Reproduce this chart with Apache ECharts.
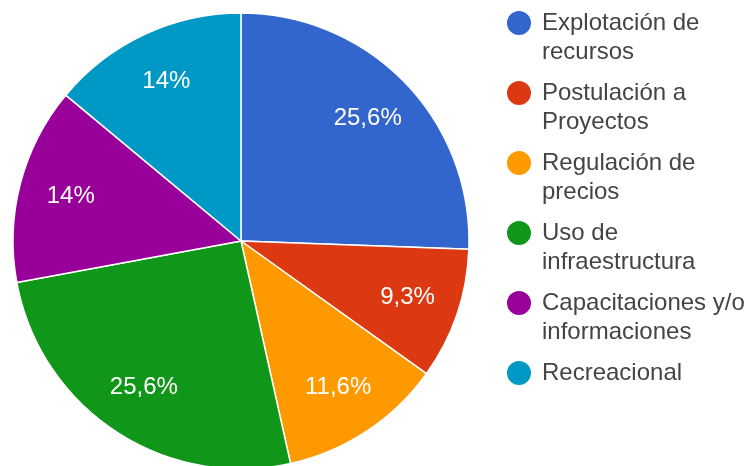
<!DOCTYPE html>
<html>
<head>
<meta charset="utf-8">
<script src="https://cdn.jsdelivr.net/npm/echarts@6/dist/echarts.min.js"></script>
<style>html,body{margin:0;padding:0;background:#fff}#c{width:752px;height:466px}</style>
</head>
<body>
<div id="c"></div>
<script>
const categories = ['Explotación de recursos','Postulación a Proyectos','Regulación de precios','Uso de infraestructura','Capacitaciones y/o informaciones','Recreacional'];
const counts = [11, 4, 5, 11, 6, 6];
const legendLabels = ['Explotación de\nrecursos','Postulación a\nProyectos','Regulación de\nprecios','Uso de\ninfraestructura','Capacitaciones y/o\ninformaciones','Recreacional\n '];
const colors = ['#3366cc','#dc3912','#ff9900','#109618','#990099','#0099c6'];

const total = counts.reduce((a,b)=>a+b,0);
function pct(v){
  let s = (v/total*100).toFixed(1);
  if (s.endsWith('.0')) s = s.slice(0,-2);
  return s.replace('.', ',') + '%';
}
const data = categories.map((n,i)=>({name:n, value:counts[i]}));
const chart = echarts.init(document.getElementById('c'), null, {renderer:'canvas'});
chart.setOption({
  backgroundColor:'#fff',
  color: colors,
  animation:false,
  textStyle:{fontFamily:'Arial, "Liberation Sans", sans-serif'},
  legend:{
    orient:'vertical',
    left:505, top:-20.5,
    padding:0,
    icon:'circle',
    itemWidth:26, itemHeight:26,
    itemGap:-17,
    data: categories,
    // blank first line so the first text line sits level with the icon
    formatter: n => ' \n' + legendLabels[categories.indexOf(n)],
    textStyle:{fontSize:24, color:'#444', lineHeight:29, padding:[0,0,0,5], fontFamily:'Arial, "Liberation Sans", sans-serif'}
  },
  series:[
    {
      type:'pie', center:[241,241], radius:[0,228], startAngle:90, clockwise:true,
      data: data,
      itemStyle:{borderColor:'#fff', borderWidth:1.5},
      label:{show:false}, labelLine:{show:false}, silent:true
    },
    {
      type:'pie', center:[241,241], radius:[118,228], startAngle:90, clockwise:true,
      data: data,
      itemStyle:{color:'rgba(0,0,0,0)', borderWidth:0},
      label:{show:true, position:'inside', color:'#fff', fontSize:24, fontFamily:'Arial, "Liberation Sans", sans-serif',
        formatter: p => pct(p.value)},
      labelLine:{show:false}, silent:true
    }
  ]
});
</script>
</body>
</html>
